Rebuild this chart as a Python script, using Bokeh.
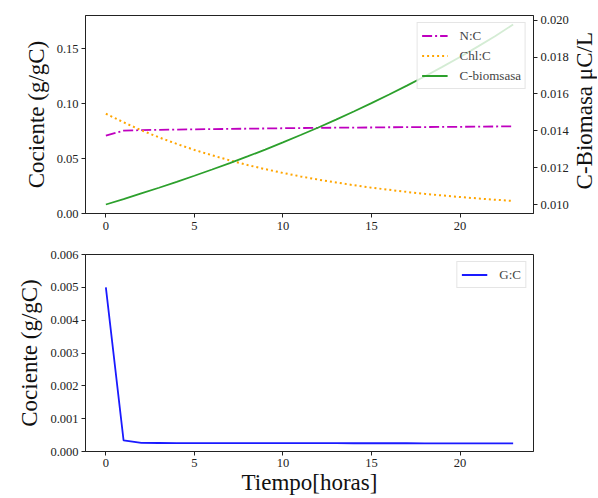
import math
from bokeh.plotting import figure
from bokeh.models import Range1d, LinearAxis, FixedTicker, Legend, LegendItem, PrintfTickFormatter, Label
from bokeh.layouts import column, row
from bokeh.embed import file_html
from bokeh.resources import INLINE

# ---- data ----
horas = list(range(24))
n_c = [0.0708, 0.0753, 0.0758, 0.0761, 0.0763, 0.0765, 0.0767, 0.0769, 0.0771, 0.0773,
       0.0775, 0.0777, 0.0778, 0.0780, 0.0781, 0.0782, 0.0784, 0.0785, 0.0786, 0.0787,
       0.0788, 0.0790, 0.0791, 0.0792]
chl_c = [0.0907, 0.0829, 0.0757, 0.0692, 0.0633, 0.0578, 0.0529, 0.0483, 0.0441, 0.0403,
         0.0369, 0.0337, 0.0308, 0.0282, 0.0257, 0.0235, 0.0215, 0.0196, 0.0179, 0.0164,
         0.0150, 0.0137, 0.0125, 0.0114]
c_biomasa = [0.01000, 0.01029, 0.01060, 0.01091, 0.01123, 0.01156, 0.01190, 0.01225,
             0.01261, 0.01298, 0.01337, 0.01377, 0.01418, 0.01461, 0.01505, 0.01550,
             0.01597, 0.01645, 0.01695, 0.01747, 0.01801, 0.01857, 0.01915, 0.01977]
g_c = [0.00500, 0.00034, 0.00026, 0.000259, 0.000258, 0.000257, 0.000256, 0.000256,
       0.000255, 0.000255, 0.000254, 0.000254, 0.000253, 0.000253, 0.000252, 0.000252,
       0.000251, 0.000251, 0.000250, 0.000250, 0.000249, 0.000249, 0.000248, 0.000248]

x_ticks = [0, 5, 10, 15, 20]
y_ticks_cociente = [0.00, 0.05, 0.10, 0.15]
y_ticks_biomasa = [0.010, 0.012, 0.014, 0.016, 0.018, 0.020]
y_ticks_gc = [0.000, 0.001, 0.002, 0.003, 0.004, 0.005, 0.006]

labels_top = ["N:C", "Chl:C", "C-biomsasa"]
label_bottom = "G:C"
label_biomasa = "C-Biomasa μC/L"

FONT = "Liberation Serif"
TICK_SIZE = "12.5px"
LABEL_SIZE = "23px"

TOP_BORDER = 15
FRAME1_H = 198
BOTTOM1 = 24


def x_range():
    span = horas[-1] - horas[0]
    return Range1d(horas[0] - 0.05 * span, horas[-1] + 0.05 * span)


def style_axis(ax, standoff=3):
    ax.major_tick_out = 4
    ax.major_tick_in = 0
    ax.minor_tick_out = 0
    ax.minor_tick_in = 0
    ax.axis_line_color = "#222222"
    ax.major_tick_line_color = "#222222"
    ax.major_label_text_font = FONT
    ax.major_label_text_font_size = TICK_SIZE
    ax.major_label_text_color = "#222222"
    ax.major_label_standoff = standoff
    ax.axis_label_text_font = FONT
    ax.axis_label_text_font_size = LABEL_SIZE
    ax.axis_label_text_font_style = "normal"
    ax.axis_label_text_color = "#111111"
    ax.axis_label_standoff = 5


def style_legend(lg):
    lg.label_text_font = FONT
    lg.label_text_font_size = "13px"
    lg.glyph_width = 26
    lg.glyph_height = 17
    lg.label_height = 17
    lg.spacing = 3
    lg.padding = 4
    lg.margin = 7
    lg.label_standoff = 12
    lg.border_line_color = "#cccccc"
    lg.border_line_width = 1
    lg.background_fill_alpha = 0.8
    lg.location = "top_right"


# ---- top figure ----
p1 = figure(frame_width=448, frame_height=FRAME1_H, x_range=x_range(),
            y_range=Range1d(0, 0.18), output_backend="svg", toolbar_location=None,
            min_border_left=85, min_border_top=TOP_BORDER, min_border_bottom=BOTTOM1,
            min_border_right=38)
p1.grid.visible = False
p1.outline_line_color = "#222222"
p1.outline_line_width = 1

bmin, bmax = min(c_biomasa), max(c_biomasa)
bspan = bmax - bmin
p1.extra_y_ranges = {"bio": Range1d(bmin - 0.05 * bspan, bmax + 0.05 * bspan)}

r_nc = p1.line(horas, n_c, line_color="#bf00bf", line_width=1.8, line_dash="10 3 2 3")
r_chl = p1.line(horas, chl_c, line_color="orange", line_width=2, line_dash="2 3")
r_bio = p1.line(horas, c_biomasa, line_color="#2ca02c", line_width=1.8, y_range_name="bio")

p1.xaxis.ticker = FixedTicker(ticks=x_ticks)
p1.yaxis.ticker = FixedTicker(ticks=y_ticks_cociente)
p1.yaxis.formatter = PrintfTickFormatter(format="%.2f")
p1.yaxis.axis_label = "Cociente (g/gC)"
style_axis(p1.xaxis[0], standoff=4)
style_axis(p1.yaxis[0])

ax_r = LinearAxis(y_range_name="bio",
                  ticker=FixedTicker(ticks=y_ticks_biomasa),
                  formatter=PrintfTickFormatter(format="%.3f"))
style_axis(ax_r)
p1.add_layout(ax_r, "right")

lg1 = Legend(items=[LegendItem(label=labels_top[0], renderers=[r_nc]),
                    LegendItem(label=labels_top[1], renderers=[r_chl]),
                    LegendItem(label=labels_top[2], renderers=[r_bio])])
style_legend(lg1)
p1.add_layout(lg1)

# narrow panel holding the right-hand axis title (reads bottom to top)
H1 = TOP_BORDER + FRAME1_H + BOTTOM1
pl = figure(width=26, height=H1, x_range=Range1d(0, 1), y_range=Range1d(0, H1),
            output_backend="svg", toolbar_location=None, x_axis_location=None,
            y_axis_location=None, min_border=0, outline_line_color=None)
pl.grid.visible = False
pl.add_layout(Label(x=0.5, y=H1 - TOP_BORDER - FRAME1_H / 2, text=label_biomasa,
                    angle=math.pi / 2, text_align="center", text_baseline="middle",
                    text_font=FONT, text_font_size=LABEL_SIZE, text_color="#111111"))

# ---- bottom figure ----
p2 = figure(frame_width=448, frame_height=197, x_range=x_range(),
            y_range=Range1d(y_ticks_gc[0], y_ticks_gc[-1]), output_backend="svg",
            toolbar_location=None, min_border_left=85, min_border_top=17,
            min_border_bottom=10, min_border_right=10)
p2.grid.visible = False
p2.outline_line_color = "#222222"
p2.outline_line_width = 1

r_gc = p2.line(horas, g_c, line_color="#1a1aff", line_width=1.8)

p2.xaxis.ticker = FixedTicker(ticks=x_ticks)
p2.yaxis.ticker = FixedTicker(ticks=y_ticks_gc)
p2.yaxis.formatter = PrintfTickFormatter(format="%.3f")
p2.yaxis.axis_label = "Cociente (g/gC)"
p2.xaxis.axis_label = "Tiempo[horas]"
style_axis(p2.xaxis[0], standoff=3)
p2.xaxis[0].axis_label_standoff = 0
style_axis(p2.yaxis[0])

lg2 = Legend(items=[LegendItem(label=label_bottom, renderers=[r_gc])])
style_legend(lg2)
p2.add_layout(lg2)

layout = column(row(p1, pl, spacing=0), p2, spacing=0)
open("out.html", "w").write(file_html(layout, INLINE))
